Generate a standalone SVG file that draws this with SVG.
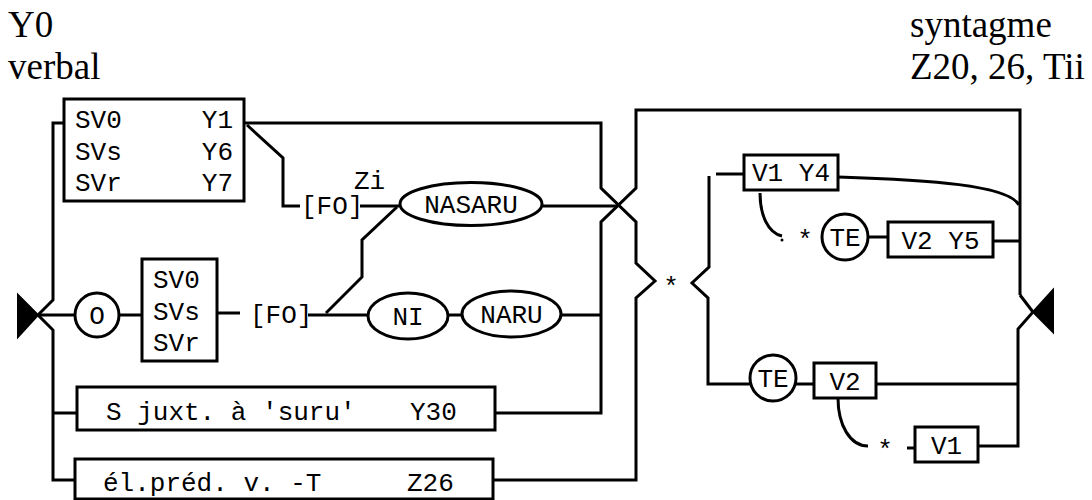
<svg xmlns="http://www.w3.org/2000/svg" width="1092" height="500" viewBox="0 0 1092 500">
<style>
.ln{fill:none;stroke:#000;stroke-width:3}
.bx{fill:#fff;stroke:#000;stroke-width:3}
.t{font-family:"Liberation Mono","Courier New",monospace;font-size:26px;fill:#000}
.c{text-anchor:middle}
.r{text-anchor:end}
.s{font-family:"Liberation Serif","Times New Roman",serif;font-size:37px;fill:#000}
</style>
<rect width="1092" height="500" fill="#fff"/>
<g id="titles">
<text class="s" x="8" y="37">Y0</text>
<text class="s" x="8" y="79">verbal</text>
<text class="s" x="910" y="37">syntagme</text>
<text class="s" x="910" y="79">Z20, 26, Tii</text>
</g>
<g id="connectors">
<path class="ln" d="M64,123 H53 V300 L38,315 L53,330 V480 H75"/>
<path class="ln" d="M38,315 H75"/>
<path class="ln" d="M53,413 H77"/>
<path class="ln" d="M119,315 H142"/>
<path class="ln" d="M217,313 H240"/>
<path class="ln" d="M308,315 H368"/>
<path class="ln" d="M448,315 H462"/>
<path class="ln" d="M561,315 H601"/>
<path class="ln" d="M244,123 H601 V188 L636,222 V263 L655,281 L636,298 V480 H493"/>
<path class="ln" d="M542,206 H618"/>
<path class="ln" d="M247,125 L283,158 V206 H300"/>
<path class="ln" d="M360,206 H400"/>
<path class="ln" d="M397,207 L362,240 V277 L326,313"/>
<path class="ln" d="M1020,295 V110 H636 V188 L601,222 V413 H495"/>
<path class="ln" d="M1020,295 L1033,312 L1018,329 V446 H978"/>
<path class="ln" d="M709,176 V267 L692,283 L708,298 V384 H751"/>
<path class="ln" d="M716,174 H744"/>
<path class="ln" d="M838,177 C930,180 1008,185 1019,205"/>
<path class="ln" d="M993,241 H1020"/>
<path class="ln" d="M868,237 H888"/>
<path class="ln" d="M760,193 C760,215 768,233 782,236"/>
<circle cx="782" cy="240" r="1.5" fill="#000"/>
<path class="ln" d="M796,384 H814"/>
<path class="ln" d="M876,384 H1018"/>
<path class="ln" d="M838,398 C838,425 850,446 868,446"/>
<path class="ln" d="M907,448 H915"/>
<polygon points="18,295 38,315 18,337" fill="#000" stroke="#000" stroke-width="2"/>
<polygon points="1053,290 1033,312 1053,332" fill="#000" stroke="#000" stroke-width="2"/>
<text class="t c" x="671" y="295">*</text>
<text class="t c" x="805" y="248">*</text>
<text class="t c" x="885" y="458">*</text>
</g>
<g id="n-sv-top">
<rect class="bx" x="64" y="99" width="180" height="102"/>
<text class="t" x="75" y="128">SV0</text>
<text class="t" x="75" y="160">SVs</text>
<text class="t" x="75" y="191">SVr</text>
<text class="t r" x="233" y="128">Y1</text>
<text class="t r" x="233" y="160">Y6</text>
<text class="t r" x="233" y="191">Y7</text>
</g>
<g id="n-o">
<circle class="bx" cx="97" cy="315" r="22"/>
<text class="t c" x="97" y="324">O</text>
</g>
<g id="n-sv-low">
<rect class="bx" x="142" y="259" width="75" height="102"/>
<text class="t" x="153" y="288">SV0</text>
<text class="t" x="153" y="320">SVs</text>
<text class="t" x="153" y="351">SVr</text>
</g>
<g id="n-fo-top">
<text class="t" x="301" y="214">[FO]</text>
<text class="t" x="354" y="189">Zi</text>
</g>
<g id="n-fo-low">
<text class="t" x="250" y="323">[FO]</text>
</g>
<g id="n-nasaru">
<ellipse class="bx" cx="471" cy="204" rx="71" ry="21.5"/>
<text class="t c" x="471" y="213">NASARU</text>
</g>
<g id="n-ni">
<ellipse class="bx" cx="408" cy="316" rx="40" ry="23"/>
<text class="t c" x="408" y="325">NI</text>
</g>
<g id="n-naru">
<ellipse class="bx" cx="511.5" cy="314" rx="49.5" ry="23"/>
<text class="t c" x="511.5" y="323">NARU</text>
</g>
<g id="n-juxt">
<rect class="bx" x="77" y="387" width="418" height="43"/>
<text class="t" x="106" y="420">S juxt. à 'suru'<tspan x="410">Y30</tspan></text>
</g>
<g id="n-elpred">
<rect class="bx" x="75" y="459" width="418" height="40"/>
<text class="t" x="103" y="491">él.préd. v. -T<tspan x="407">Z26</tspan></text>
</g>
<g id="n-v1y4">
<rect class="bx" x="744" y="155" width="94" height="35"/>
<text class="t c" x="791" y="181">V1 Y4</text>
</g>
<g id="n-te1">
<circle class="bx" cx="845" cy="237" r="23"/>
<text class="t c" x="845" y="246">TE</text>
</g>
<g id="n-v2y5">
<rect class="bx" x="888" y="222" width="105" height="35"/>
<text class="t c" x="940.5" y="249">V2 Y5</text>
</g>
<g id="n-te2">
<circle class="bx" cx="773" cy="378" r="23"/>
<text class="t c" x="773" y="387">TE</text>
</g>
<g id="n-v2">
<rect class="bx" x="814" y="363" width="62" height="35"/>
<text class="t c" x="845" y="390">V2</text>
</g>
<g id="n-v1">
<rect class="bx" x="915" y="427" width="63" height="35"/>
<text class="t c" x="946.5" y="454">V1</text>
</g>
</svg>
